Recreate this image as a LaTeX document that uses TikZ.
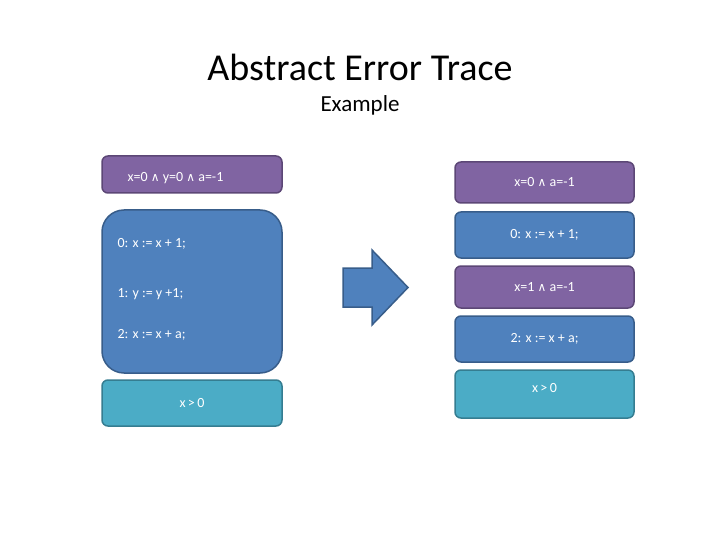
\documentclass[tikz,border=0pt]{standalone}
\usepackage{fontspec}
\setmainfont{Carlito}
\newfontfamily\symf{DejaVu Sans}
\usetikzlibrary{shapes.arrows}
\definecolor{pur}{HTML}{8064A2}
\definecolor{purb}{HTML}{5C4776}
\definecolor{blu}{HTML}{4F81BD}
\definecolor{blub}{HTML}{385D8A}
\definecolor{tea}{HTML}{4BACC6}
\definecolor{teab}{HTML}{357D91}
\tikzset{bx/.style={rounded corners=6pt,line width=1.5pt,text=white,font=\fontsize{14}{16}\selectfont},
 pb/.style={bx,fill=pur,draw=purb}, bb/.style={bx,fill=blu,draw=blub}, tb/.style={bx,fill=tea,draw=teab},
 lt/.style={text=white,font=\fontsize{14}{16}\selectfont,anchor=west}}
\newcommand{\aand}{{\symf\fontsize{12}{14}\selectfont ∧}}
\begin{document}
\begin{tikzpicture}[x=1pt,y=-1pt]
\useasboundingbox (0,0) rectangle (720,540);
\node (t) at (360,67) {\fontsize{38}{44}\selectfont Abstract Error Trace};
\node (e) at (360,105) {\fontsize{23}{27}\selectfont Example};
% left
\draw[pb] (102,156) rectangle (282,193);
\node[lt] (l1) at (124,178) {x=0 \aand{} y=0 \aand{} a=-1};
\draw[bb,rounded corners=22pt] (102,210) rectangle (282,373);
\node[lt] (l2) at (114,244) {0: x := x + 1;};
\node[lt] (l3) at (114,294) {1: y := y +1;};
\node[lt] (l4) at (114,335) {2: x := x + a;};
\draw[tb] (102,380) rectangle (282,426);
\node[text=white,font=\fontsize{14}{16}\selectfont] (l5) at (192,403) {x\,>\,0};
% arrow
\draw[fill=blu,draw=blub,line width=1.5pt] (343,268) -- (372,268) -- (372,250) -- (408,287.5) -- (372,325) -- (372,307) -- (343,307) -- cycle;
% right
\node[pb,minimum width=179pt,minimum height=41pt] (r1) at (544.5,182.5) {x=0 \aand{} a=-1};
\node[bb,minimum width=179pt,minimum height=46pt] (r2) at (544.5,235) [yshift=0pt] {0: x := x + 1;};
\node[pb,minimum width=179pt,minimum height=42pt] (r3) at (544.5,287) {x=1 \aand{} a=-1};
\node[bb,minimum width=179pt,minimum height=46pt] (r4) at (544.5,339) {2: x := x + a;};
\node[tb,minimum width=179pt,minimum height=48pt,text depth=12pt] (r5) at (544.5,394) {x\,>\,0};
\end{tikzpicture}
\end{document}
